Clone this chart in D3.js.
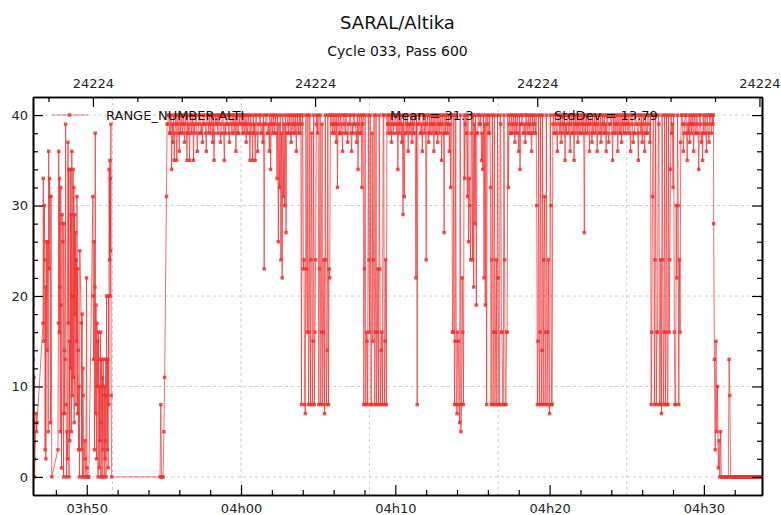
<!DOCTYPE html>
<html><head><meta charset="utf-8">
<script src="https://cdn.jsdelivr.net/npm/d3@7"></script>
<style>
body{margin:0;background:#fff;}
svg{display:block;font-family:"DejaVu Sans",sans-serif;}
</style>
</head><body>
<svg id="chart" width="781" height="515"></svg>
<script>
// ---------- text ----------
const title = "SARAL/Altika";
const subtitle = "Cycle 033, Pass 600";
const seriesName = "RANGE_NUMBER.ALTI";
const statMean = "Mean = 31.3";
const statStd = "StdDev = 13.79";

// ---------- axes ----------
const timeDomain = ["03:46:31", "04:33:46"];
const yDomain = [-2, 42];
const yTicks = [0, 10, 20, 30, 40];
const timeTicks = ["03:50", "04:00", "04:10", "04:20", "04:30"];
const dayBase = 24224;
const dayTicks = [24224.16, 24224.17, 24224.18, 24224.19];
const gridTimes = ["03:51:40", "04:00:00", "04:08:20", "04:16:40", "04:25:00"];

// ---------- data ----------
// early noisy part: seconds after earlyStart, values
const earlyStart = "03:46:31";
const earlyOffsets = [0,1,2,4,5,6,12,14,16,39,40,42,44,46,47,49,50,52,54,57,59,61,63,64,66,68,70,73,
 97,99,100,102,103,105,106,108,109,111,113,114,116,117,119,120,122,123,125,127,129,131,132,134,136,137,139,140,
 142,143,145,146,148,149,151,153,154,156,157,159,160,162,163,165,167,168,170,171,173,174,176,177,179,181,182,
 188,189,191,192,194,195,197,202,203,206,208,210,212,214,217,
 233,234,236,238,239,241,242,244,245,247,249,250,252,253,255,256,258,259,261,263,264,266,267,269,270,272,273,
 275,277,278,280,281,283,284,286,287,289,290,292,294,295,296,298,299,300,301,302,303,304,306,
 494,497,500,503,506,509,512];
const earlyValues = [19,13,0,11,2,0,7,5,6,17,33,15,30,24,3,21,2,26,14,26,5,36,23,33,31,6,31,0,
 3,17,36,16,33,21,5,32,19,1,29,28,26,7,0,28,14,7,13,39,8,0,5,2,37,17,34,0,
 15,4,34,12,29,5,36,9,20,34,11,32,6,29,18,27,8,24,15,31,7,23,14,3,10,0,25,
 17,3,18,0,12,9,0,4,2,0,22,1,0,0,0,
 31,20,13,26,3,21,38,7,19,2,17,10,15,0,16,13,1,10,4,16,0,6,13,0,11,3,13,
 9,0,10,2,4,13,0,20,9,3,13,1,20,8,34,24,35,20,33,25,39,9,0,
 0,8,0,0,0,5,11];

// main band, one value every bandStep seconds
const bandStep = 2.5;
const bandAStart = "03:55:10";
const bandA = [31,39,39,40,40,38,38,40,34,39,37,40,35,38,39,40,35,39,40,38,36,40,38,39,40,38,39,40,37,39,
 40,38,35,40,38,39,35,40,40,38,39,40,35,39,38,40,40,39,36,38,39,40,40,38,38,39,37,40,40,39,
 39,38,36,40,40,39,38,40,39,38,40,39,37,40,35,38,40,39,39,40,38,40,40,39,37,38,39,40,40,38,
 35,39,38,40,40,39,39,38,37,40,40,39,38,40,40,38,39,40,36,39,40,38,38,40,39,40];
const bandBStart = "04:00:00";
const bandB = [40,39,38,40,39,38,40,39,37,40,38,39,40,38,35,40,39,38,35,40,38,39,35,40,40,38,36,39,39,40,
 40,38,38,39,37,40,23,39,39,40,40,38,38,39,36,40,34,39,40,38,39,40,38,39,40,38,33,40,26,39,
 32,40,24,38,22,40,31,39,30,40,27,38,39,40,38,39,40,38,37,40,39,38,40,39,38,40,36,39,40,38,
 39,40,38,40,8,39,40,23,24,8,7,40,23,16,40,8,16,40,8,24,38,8,15,40,8,16,24,39,40,38];
const bandCStart = "04:05:00";
const bandC = [40,8,23,40,8,16,39,8,16,24,7,40,24,8,14,40,8,23,22,40,40,39,38,40,39,38,40,39,37,40,
 32,39,40,38,38,40,39,38,36,40,40,39,38,40,40,38,37,39,39,40,40,38,36,39,38,40,40,39,39,38,
 37,40,34,39,40,38,38,40,32,39,40,8,23,40,8,16,15,8,40,24,16,40,8,8,38,15,24,40,8,16,
 40,8,16,23,8,40,23,8,14,16,8,40,40,8,15,24,8,40,39,38,40,39,38,40,37,39,40,38,39,40];
const bandDStart = "04:10:00";
const bandD = [40,39,38,40,34,39,40,38,39,40,37,39,29,40,31,38,40,39,38,40,36,39,39,38,40,39,37,40,38,39,
 40,38,22,40,8,39,39,40,40,38,38,39,36,40,40,38,39,40,24,39,40,38,37,40,38,39,40,38,39,40,
 36,39,40,38,38,40,37,39,40,38,39,40,35,39,40,38,27,40,38,39,40,38,39,40,36,39,32,40,40,16,
 16,40,8,15,40,8,7,16,15,8,6,40,5,8,22,16,8,40,33,39,40,38,31,40,26,33,30,24,38,40];
const bandEStart = "04:15:00";
const bandE = [24,40,21,39,28,40,19,38,38,40,40,39,39,40,35,38,34,40,22,39,19,40,8,39,40,38,38,40,32,8,
 24,40,8,16,40,8,16,24,8,40,22,8,8,40,39,16,16,8,8,40,24,8,8,16,16,40,32,39,40,38,
 38,40,39,38,40,39,37,40,38,39,40,38,36,40,34,39,39,40,40,38,38,39,37,40,40,38,39,40,38,39,
 40,38,36,40,39,38,40,39,38,40,30,8,15,40,8,16,40,8,14,40,8,24,31,8,16,40,8,16,24,8];
const bandFStart = "04:20:00";
const bandF = [7,40,30,8,8,39,40,38,38,40,39,38,36,40,40,39,38,40,37,39,40,38,39,40,35,39,38,40,40,38,
 39,40,36,39,40,38,38,40,35,39,40,38,39,40,37,39,40,38,38,40,39,38,40,39,27,40,38,39,40,38,
 39,40,36,39,40,38,37,40,38,39,40,38,39,40,36,39,40,38,38,40,37,39,40,38,39,40,38,39,36,40,
 40,38,37,39,39,40,40,38,35,40,38,39,40,38,39,40,36,39,40,38,38,40,37,39,40,38,39,40,38,39];
const bandGStart = "04:25:00";
const bandG = [40,39,38,40,39,38,36,40,40,39,37,38,38,40,40,39,39,38,35,40,40,39,38,40,37,39,40,38,36,40,
 39,38,38,40,40,39,37,40,8,16,31,40,40,8,24,40,8,16,16,40,39,8,8,24,7,40,24,8,16,40,
 8,16,40,8,8,40,16,24,34,40,38,39,32,40,16,8,8,30,22,40,30,8,24,16,37,40,40,39,36,38,
 39,40,40,38,35,39,38,40,37,39,40,38,39,40,36,39,40,38,38,40,39,38,34,40,40,39,37,38,35,40,
 38,39,40,38,36,40,39,38,37,40,40,39,38,40,39,40];

// tail after the band
const tailStart = "04:30:38";
const tailStep = 3;
const tailValues = [28,13,3,15,5,10,1,4,0,5,0,0,0,0,0,0,0,0,0,0,13,9,0,0,0,0,0,0,0,0,
 0,0,0,0,0,0,0,0,0,0,0,0,0,0,0,0,0,0,0,0,0,0,0,0,0,0,0,0,0,0,0,0,0];

// ---------- build ----------
const toSec = s => { const p = s.split(":").map(Number); return p[0]*3600 + p[1]*60 + (p[2] || 0); };
const pad = n => String(n).padStart(2, "0");

const points = [];
const eb = toSec(earlyStart);
earlyOffsets.forEach((o, i) => points.push({t: eb + o, v: earlyValues[i]}));
[[bandAStart, bandA], [bandBStart, bandB], [bandCStart, bandC], [bandDStart, bandD],
 [bandEStart, bandE], [bandFStart, bandF], [bandGStart, bandG]].forEach(([s, arr]) => {
  const b = toSec(s);
  arr.forEach((v, i) => points.push({t: b + i * bandStep, v}));
});
const tb = toSec(tailStart);
tailValues.forEach((v, i) => points.push({t: tb + i * tailStep, v}));

const M = {l: 33, r: 762, t: 97, b: 495};
const svg = d3.select("#chart");

const x = d3.scaleLinear().domain(timeDomain.map(toSec)).range([M.l, M.r]);
const xDay = d3.scaleLinear().domain(timeDomain.map(s => dayBase + toSec(s) / 86400)).range([M.l, M.r]);
const y = d3.scaleLinear().domain(yDomain).range([M.b, M.t]);

// titles
svg.append("text").attr("x", 397.5).attr("y", 29).attr("text-anchor", "middle")
  .attr("font-size", 18).attr("fill", "#111").text(title);
svg.append("text").attr("x", 397.5).attr("y", 56).attr("text-anchor", "middle")
  .attr("font-size", 14).attr("fill", "#111").text(subtitle);

// grid
const grid = svg.append("g").attr("stroke", "#cccccc").attr("stroke-width", 1).attr("stroke-dasharray", "3,3");
yTicks.forEach(v => grid.append("line").attr("x1", M.l).attr("x2", M.r).attr("y1", y(v)).attr("y2", y(v)));
gridTimes.forEach(s => grid.append("line").attr("x1", x(toSec(s))).attr("x2", x(toSec(s))).attr("y1", M.t).attr("y2", M.b));

// data
const red = "#f03030";
svg.append("clipPath").attr("id", "clip").append("rect")
  .attr("x", M.l).attr("y", M.t).attr("width", M.r - M.l).attr("height", M.b - M.t);
const plot = svg.append("g").attr("clip-path", "url(#clip)");
plot.append("path").datum(points)
  .attr("d", d3.line().x(d => x(d.t)).y(d => y(d.v)))
  .attr("fill", "none").attr("stroke", red).attr("stroke-width", 1).attr("stroke-opacity", 0.7)
  .attr("stroke-linejoin", "round");
plot.append("g").selectAll("rect").data(points).join("rect")
  .attr("x", d => x(d.t) - 1.7).attr("y", d => y(d.v) - 1.7)
  .attr("width", 3.4).attr("height", 3.4).attr("fill", red).attr("fill-opacity", 0.85);

// legend (drawn over the data)
const lg = svg.append("g");
lg.append("line").attr("x1", 52).attr("x2", 88).attr("y1", 115).attr("y2", 115)
  .attr("stroke", red).attr("stroke-opacity", 0.6).attr("stroke-width", 1.2);
lg.append("rect").attr("x", 69.5 - 1.7).attr("y", 115 - 1.7).attr("width", 3.4).attr("height", 3.4)
  .attr("fill", red).attr("fill-opacity", 0.85);
const lt = (xx, s) => lg.append("text").attr("x", xx).attr("y", 115).attr("dy", "0.35em")
  .attr("font-size", 13).attr("fill", "#111").text(s);
lt(106, seriesName);
lt(390, statMean);
lt(554, statStd);

// axes
function styleAxis(g) {
  g.select(".domain").attr("stroke", "#000").attr("stroke-width", 1.6);
  g.selectAll(".tick line").attr("stroke", "#000").attr("stroke-width", 1.2);
  g.selectAll(".tick text").attr("fill", "#222").attr("font-size", 13).attr("font-family", "DejaVu Sans, sans-serif");
}
const fmtTime = s => pad(Math.floor(s / 3600)) + "h" + pad(Math.floor((s % 3600) / 60));
const minorTimes = d3.range(toSec("03:48"), toSec("04:33:46"), 120).filter(s => s % 600 !== 0);
const minorDays = d3.range(24224.158, 24224.1905, 0.002).filter(d => Math.abs(d * 100 - Math.round(d * 100)) > 1e-6);
const minorY = d3.range(2, 42, 2).filter(v => v % 10 !== 0);

svg.append("g").attr("transform", `translate(0,${M.b})`)
  .call(d3.axisBottom(x).tickValues(minorTimes).tickFormat(() => "").tickSizeInner(-5).tickSizeOuter(0)).call(styleAxis);
svg.append("g").attr("transform", `translate(0,${M.b})`)
  .call(d3.axisBottom(x).tickValues(timeTicks.map(toSec)).tickFormat(fmtTime).tickSizeInner(-10).tickSizeOuter(0).tickPadding(9)).call(styleAxis);

svg.append("g").attr("transform", `translate(0,${M.t})`)
  .call(d3.axisTop(xDay).tickValues(minorDays).tickFormat(() => "").tickSizeInner(-5).tickSizeOuter(0)).call(styleAxis);
svg.append("g").attr("transform", `translate(0,${M.t})`)
  .call(d3.axisTop(xDay).tickValues(dayTicks).tickFormat(d3.format("d")).tickSizeInner(-10).tickSizeOuter(0).tickPadding(9)).call(styleAxis);

svg.append("g").attr("transform", `translate(${M.l},0)`)
  .call(d3.axisLeft(y).tickValues(minorY).tickFormat(() => "").tickSizeInner(-5).tickSizeOuter(0)).call(styleAxis);
svg.append("g").attr("transform", `translate(${M.l},0)`)
  .call(d3.axisLeft(y).tickValues(yTicks).tickFormat(d3.format("d")).tickSizeInner(-10).tickSizeOuter(0).tickPadding(5)).call(styleAxis);

svg.append("g").attr("transform", `translate(${M.r},0)`)
  .call(d3.axisRight(y).tickValues(minorY).tickFormat(() => "").tickSizeInner(-5).tickSizeOuter(0)).call(styleAxis);
svg.append("g").attr("transform", `translate(${M.r},0)`)
  .call(d3.axisRight(y).tickValues(yTicks).tickFormat(() => "").tickSizeInner(-10).tickSizeOuter(0)).call(styleAxis);
</script>
</body></html>
